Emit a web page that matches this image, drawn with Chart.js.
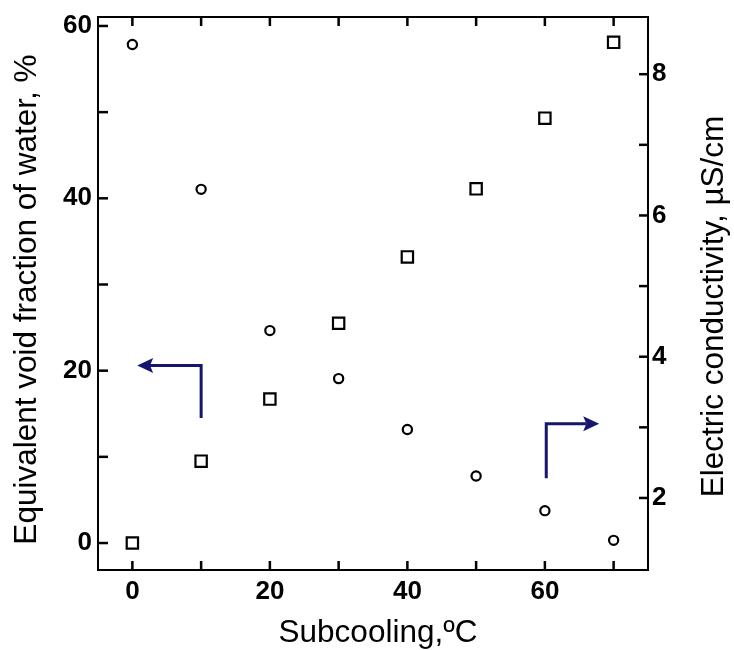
<!DOCTYPE html>
<html>
<head>
<meta charset="utf-8">
<script src="https://cdn.jsdelivr.net/npm/chart.js@4.4.1/dist/chart.umd.min.js"></script>
<style>
  body { margin: 0; background: #fff; }
  #wrap { width: 734px; height: 650px; }
</style>
</head>
<body>
<div id="wrap"><canvas id="chart"></canvas></div>
<script>
// data
const subcooling = [0, 10, 20, 30, 40, 50, 60, 70];
const voidFraction = [0, 9.5, 16.7, 25.5, 33.2, 41.1, 49.3, 58.1];   // %, left axis (squares)
const conductivity = [8.42, 6.37, 4.37, 3.69, 2.97, 2.31, 1.82, 1.40]; // uS/cm, right axis (circles)

// tick labels and tick marks
const xLabelTicks = [0, 20, 40, 60];
const xTickMarks = [0, 10, 20, 30, 40, 50, 60, 70];
const leftLabelTicks = [0, 20, 40, 60];
const leftTickMarks = [0, 10, 20, 30, 40, 50, 60];
const rightLabelTicks = [2, 4, 6, 8];
const rightTickMarks = [2, 3, 4, 5, 6, 7, 8];

// arrows pointing to the axis of each series (data units)
const leftArrowX = [10, 10, 0.7];
const leftArrowY = [14.5, 20.6, 20.6];
const rightArrowX = [60.2, 60.2, 67.9];
const rightArrowY = [2.28, 3.05, 3.05];

const xTitle = 'Subcooling,\u00baC';
const leftTitle = 'Equivalent void fraction of water, %';
const rightTitle = 'Electric conductivity, \u00b5S/cm';

const FONT = "'Liberation Sans', Arial, sans-serif";
const ARROW = '#16166e';

function pts(ys) {
    return subcooling.map((x, i) => ({ x: x, y: ys[i] }));
}

function setTicks(values) {
    return function (scale) {
        scale.ticks = values.map(v => ({ value: v }));
    };
}

// keep the plot box fixed, no extra room for edge labels
function fixSize(w, h) {
    return function (s) {
        if (w) s.width = w;
        if (h) s.height = h;
        s.paddingTop = 0;
        s.paddingBottom = 0;
        s.paddingLeft = 0;
        s.paddingRight = 0;
    };
}

function drawTitle(ctx, text, x, y, rot) {
    ctx.save();
    ctx.fillStyle = '#000';
    ctx.font = '31.5px ' + FONT;
    ctx.textAlign = 'center';
    ctx.textBaseline = 'middle';
    ctx.translate(x, y);
    ctx.rotate(rot);
    ctx.fillText(text, 0, 0);
    ctx.restore();
}

// inward tick marks, top frame line, arrows and axis titles
const decorPlugin = {
    id: 'decor',
    afterDraw(chart) {
        const ctx = chart.ctx;
        const a = chart.chartArea;
        const sx = chart.scales.x, sl = chart.scales.yLeft, sr = chart.scales.yRight;
        ctx.save();
        ctx.fillStyle = '#000';
        ctx.fillRect(a.left - 1, a.top - 1, a.right - a.left + 2, 2);
        xTickMarks.forEach(v => {
            const px = sx.getPixelForValue(v);
            ctx.fillRect(px - 1.25, a.bottom - 9, 2.5, 9);
            ctx.fillRect(px - 1.25, a.top, 2.5, 9);
        });
        leftTickMarks.forEach(v => {
            const py = sl.getPixelForValue(v);
            ctx.fillRect(a.left, py - 1.25, 10, 2.5);
        });
        rightTickMarks.forEach(v => {
            const py = sr.getPixelForValue(v);
            ctx.fillRect(a.right - 9, py - 1.25, 9, 2.5);
        });

        // arrows
        function arrow(xs, ys, yScale) {
            const p = xs.map((x, i) => [sx.getPixelForValue(x), yScale.getPixelForValue(ys[i])]);
            const tip = p[p.length - 1], prev = p[p.length - 2];
            const dir = Math.sign(tip[0] - prev[0]);
            const head = 16;
            ctx.strokeStyle = ARROW;
            ctx.fillStyle = ARROW;
            ctx.lineWidth = 3;
            ctx.beginPath();
            ctx.moveTo(p[0][0], p[0][1]);
            ctx.lineTo(p[1][0], p[1][1]);
            ctx.lineTo(tip[0] - dir * head * 0.8, tip[1]);
            ctx.stroke();
            ctx.beginPath();
            ctx.moveTo(tip[0], tip[1]);
            ctx.lineTo(tip[0] - dir * head, tip[1] - 7.5);
            ctx.lineTo(tip[0] - dir * head * 0.8, tip[1]);
            ctx.lineTo(tip[0] - dir * head, tip[1] + 7.5);
            ctx.closePath();
            ctx.fill();
        }
        arrow(leftArrowX, leftArrowY, sl);
        arrow(rightArrowX, rightArrowY, sr);
        ctx.restore();

        const midY = (a.top + a.bottom) / 2;
        drawTitle(ctx, leftTitle, 27, midY + 6, -Math.PI / 2);
        drawTitle(ctx, rightTitle, 714, midY + 13, -Math.PI / 2);
        drawTitle(ctx, xTitle, (a.left + a.right) / 2 + 5, 633, 0);
    }
};

const tickFont = { family: FONT, size: 26, weight: 'bold' };

new Chart(document.getElementById('chart'), {
    type: 'scatter',
    data: {
        datasets: [{
            label: 'Equivalent void fraction',
            data: pts(voidFraction),
            yAxisID: 'yLeft',
            pointStyle: 'rect',
            pointRadius: 8,
            borderColor: '#000',
            backgroundColor: '#fff',
            borderWidth: 2.2
        }, {
            label: 'Electric conductivity',
            data: pts(conductivity),
            yAxisID: 'yRight',
            pointStyle: 'circle',
            pointRadius: 4.6,
            borderColor: '#000',
            backgroundColor: '#fff',
            borderWidth: 2.2
        }]
    },
    options: {
        responsive: true,
        maintainAspectRatio: false,
        animation: false,
        devicePixelRatio: 1,
        layout: { padding: { top: 17 } },
        plugins: {
            legend: { display: false },
            tooltip: { enabled: false }
        },
        scales: {
            x: {
                type: 'linear',
                min: -5,
                max: 75,
                afterBuildTicks: setTicks(xLabelTicks),
                afterFit: fixSize(0, 80),
                grid: { display: false, drawTicks: false },
                border: { display: true, color: '#000', width: 2 },
                ticks: { color: '#000', font: tickFont, padding: 6 }
            },
            yLeft: {
                type: 'linear',
                position: 'left',
                min: -3.13,
                max: 61.04,
                afterBuildTicks: setTicks(leftLabelTicks),
                afterFit: fixSize(98, 0),
                grid: { display: false, drawTicks: false },
                border: { display: true, color: '#000', width: 2 },
                ticks: { color: '#000', font: tickFont, padding: 6 }
            },
            yRight: {
                type: 'linear',
                position: 'right',
                min: 0.98,
                max: 8.81,
                afterBuildTicks: setTicks(rightLabelTicks),
                afterFit: fixSize(86, 0),
                grid: { display: false, drawTicks: false },
                border: { display: true, color: '#000', width: 2 },
                ticks: { color: '#000', font: tickFont, padding: 4 }
            }
        }
    },
    plugins: [decorPlugin]
});
</script>
</body>
</html>
